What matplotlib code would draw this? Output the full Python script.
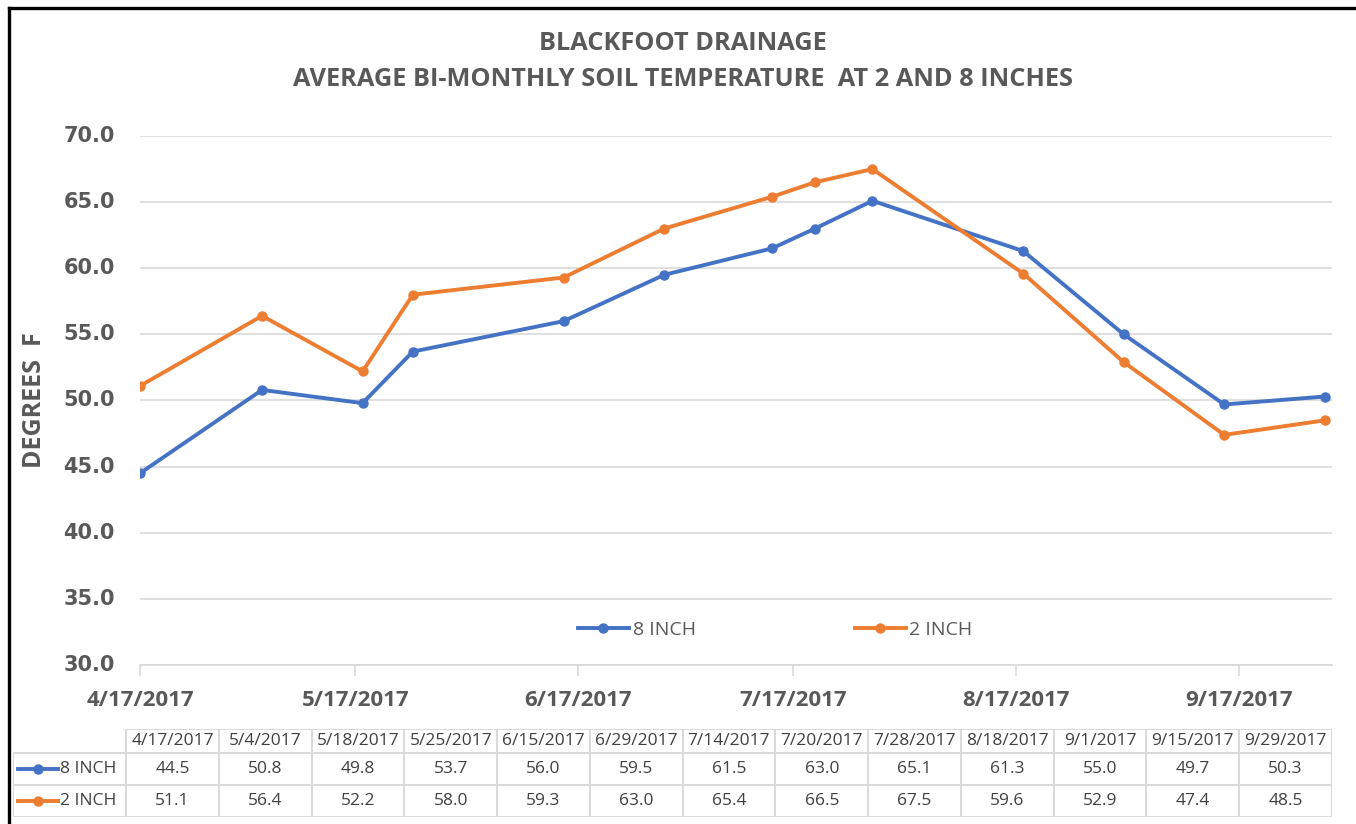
import numpy as np
import matplotlib.pyplot as plt
from matplotlib.lines import Line2D
import matplotlib.transforms as mtransforms
from datetime import date

# -----------------------------
# datos
# -----------------------------
fechas = ['4/17/2017', '5/4/2017', '5/18/2017', '5/25/2017', '6/15/2017', '6/29/2017',
          '7/14/2017', '7/20/2017', '7/28/2017', '8/18/2017', '9/1/2017', '9/15/2017', '9/29/2017']
inch8 = [44.5, 50.8, 49.8, 53.7, 56.0, 59.5, 61.5, 63.0, 65.1, 61.3, 55.0, 49.7, 50.3]
inch2 = [51.1, 56.4, 52.2, 58.0, 59.3, 63.0, 65.4, 66.5, 67.5, 59.6, 52.9, 47.4, 48.5]
series_names = ['8 INCH', '2 INCH']
tick_fechas = [date(2017, m, 17) for m in range(4, 10)]
y_ticks = np.arange(30, 71, 5)

def parse(s):
    m, d, y = map(int, s.split('/'))
    return date(y, m, d)

x = [parse(f) for f in fechas]

azul = '#4472C4'
naranja = '#ED7D31'
gris = '#595959'
W, H = 1356, 824

fig = plt.figure(figsize=(W / 100, H / 100), dpi=100)

# borde negro arriba e izquierda
fig.add_artist(Line2D([9 / W, 9 / W], [0, 1 - 8 / H], transform=fig.transFigure, color='black', lw=2.4))
fig.add_artist(Line2D([9 / W, 1], [1 - 8 / H, 1 - 8 / H], transform=fig.transFigure, color='black', lw=2.4))

# -----------------------------
# grafico principal
# -----------------------------
ax = fig.add_axes([140 / W, 1 - 665 / H, (1332 - 140) / W, (665 - 136) / H])
l8, = ax.plot(x, inch8, color=azul, lw=2.8, marker='o', ms=6.5, label=series_names[0])
l2, = ax.plot(x, inch2, color=naranja, lw=2.8, marker='o', ms=6.5, label=series_names[1])

ax.set_ylim(30, 70)
ax.set_yticks(y_ticks)
ax.set_yticklabels([])
ax.set_xlim(date(2017, 4, 17), date(2017, 9, 30))
ax.set_xticks(tick_fechas)
ax.set_xticklabels([f'{d.month}/{d.day}/{d.year}' for d in tick_fechas])
ax.grid(axis='y', color='#D9D9D9', lw=1.2)
ax.set_axisbelow(True)
for s in ['top', 'right', 'left']:
    ax.spines[s].set_visible(False)
ax.spines['bottom'].set_color('#D9D9D9')
ax.spines['bottom'].set_linewidth(1.2)
ax.tick_params(axis='y', length=0)
ax.tick_params(axis='x', length=8, width=1.2, color='#D9D9D9', pad=10, labelcolor=gris)
for t in ax.get_xticklabels():
    t.set_fontfamily('Open Sans')
    t.set_fontweight('bold')
    t.set_fontsize(16)

# etiquetas del eje y (separadas del eje como en el original)
trans = mtransforms.blended_transform_factory(ax.transAxes, ax.transData)
for v in y_ticks:
    ax.text(-25 / 1192, v, f'{v:.1f}', transform=trans, ha='right', va='center',
            fontsize=15, fontweight='bold', color=gris)

ax.set_ylabel('DEGREES  F', fontsize=18, fontweight='bold', color=gris, family='Open Sans')
ax.yaxis.set_label_coords(-93 / 1192, 0.5)

ax.legend(handles=[l8, l2], loc='center', bbox_to_anchor=(0.533, 0.066), ncol=2, frameon=False,
          columnspacing=8.2, handlelength=2.6, handletextpad=0.2,
          prop={'family': 'Open Sans', 'size': 14}, labelcolor=gris)

fig.text(683 / W, 1 - 44 / H, 'BLACKFOOT DRAINAGE', ha='center', va='center',
         fontsize=18.3, fontweight='bold', color=gris, family='Open Sans')
fig.text(683 / W, 1 - 80 / H, 'AVERAGE BI-MONTHLY SOIL TEMPERATURE  AT 2 AND 8 INCHES', ha='center',
         va='center', fontsize=18.3, fontweight='bold', color=gris, family='Open Sans')

# -----------------------------
# tabla de datos
# -----------------------------
tx0, tx1, ty0, ty1 = 13, 1332, 729, 817
tax = fig.add_axes([tx0 / W, 1 - ty1 / H, (tx1 - tx0) / W, (ty1 - ty0) / H])
tax.set_xlim(tx0, tx1)
tax.set_ylim(ty1, ty0)
tax.axis('off')
edges = np.linspace(126, tx1, len(fechas) + 1)
filas = [ty0, 753, 785, ty1]
lc = '#D9D9D9'
tax.plot([edges[0], tx1], [filas[0], filas[0]], color=lc, lw=1.4)
for yy in filas[1:]:
    tax.plot([tx0, tx1], [yy, yy], color=lc, lw=1.4)
tax.plot([tx0, tx0], [filas[1], filas[3]], color=lc, lw=1.4)
for e in edges:
    tax.plot([e, e], [filas[0], filas[3]], color=lc, lw=1.4)
cx = (edges[:-1] + edges[1:]) / 2
for i, f in enumerate(fechas):
    tax.text(cx[i], (filas[0] + filas[1]) / 2, f, ha='center', va='center', fontsize=12.5, color='#404040',
             family='Open Sans')
    tax.text(cx[i], (filas[1] + filas[2]) / 2, f'{inch8[i]:.1f}', ha='center', va='center', fontsize=12.5,
             color='#404040', family='Open Sans')
    tax.text(cx[i], (filas[2] + filas[3]) / 2, f'{inch2[i]:.1f}', ha='center', va='center', fontsize=12.5,
             color='#404040', family='Open Sans')
for j, (nombre, col) in enumerate(zip(series_names, [azul, naranja])):
    yc = (filas[j + 1] + filas[j + 2]) / 2
    tax.plot([18, 58], [yc, yc], color=col, lw=2.8)
    tax.plot([38], [yc], color=col, marker='o', ms=6.5)
    tax.text(60, yc, nombre, ha='left', va='center', fontsize=12.5, color='#404040', family='Open Sans')

fig.savefig('out.png', dpi=100)
